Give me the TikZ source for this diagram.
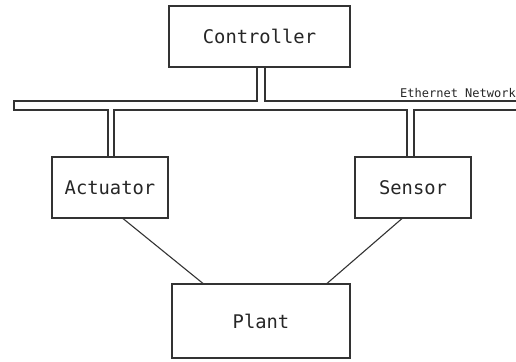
\documentclass[tikz,border=0pt]{standalone}
\usepackage{fontspec}
\setmonofont{DejaVu Sans Mono}
\usetikzlibrary{calc}
\begin{document}
\begin{tikzpicture}[x=1pt,y=-1pt,
  box/.style={draw=black!80, line width=1.1pt, minimum width=#1, inner sep=0pt, text=black!85,
     font=\ttfamily\fontsize{18.8}{22}\selectfont},
  wire/.style={draw=black!80, line width=1.1pt},
  lbl/.style={text=black!85, font=\ttfamily\fontsize{12}{14}\selectfont, inner sep=0pt}]
\useasboundingbox (0,0) rectangle (516,361);
\node[box=181pt, minimum height=61pt] (ctrl) at (259.5,36.5) {Controller};
\node[box=116pt, minimum height=61pt] (act) at (110,187.5) {Actuator};
\node[box=116pt, minimum height=61pt] (sen) at (413,187.5) {Sensor};
\node[box=178pt, minimum height=74pt] (plant) at (261,321) {Plant};
\node[lbl, anchor=south east] (eth) at (516,98) {Ethernet Network};
% bus
\coordinate (c1) at (257,67);
\coordinate (c2) at (265,67);
\coordinate (a1) at (108,157);
\coordinate (a2) at (114,157);
\coordinate (s1) at (407,157);
\coordinate (s2) at (414,157);
\coordinate (re1) at (517,101);
\coordinate (re2) at (517,110);
\draw[wire] (re1) -- (c2 |- re1) -- (c2);
\draw[wire] (c1) -- (c1 |- re1) -- (14,101) -- (14,110) -- (a1 |- re2) -- (a1);
\draw[wire] (a2) -- (a2 |- re2) -- (s1 |- re2) -- (s1);
\draw[wire] (s2) -- (s2 |- re2) -- (re2);
% plant links
\draw[wire] ($(act.south)+(13,0)$) -- ($(plant.north)+(-58,0)$);
\draw[wire] ($(sen.south)+(-11,0)$) -- ($(plant.north)+(66,0)$);
\end{tikzpicture}
\end{document}
